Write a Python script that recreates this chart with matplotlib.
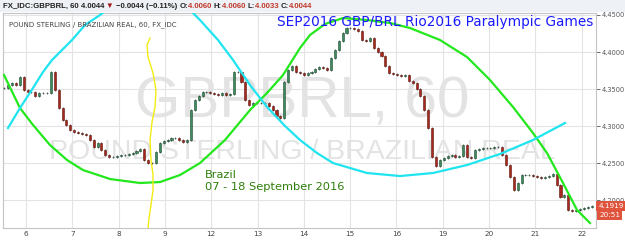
import numpy as np
import matplotlib
matplotlib.use('Agg')
import matplotlib.pyplot as plt
from matplotlib.patches import Rectangle

# ---- data (x in trading-day units, 0 = the "6" tick) ----
day_labels = ['6', '7', '8', '9', '12', '13', '14', '15', '16', '19', '20', '21', '22']
price_ticks = [4.20, 4.25, 4.30, 4.35, 4.40, 4.45]

bar_start = -0.471     # first candle
bar_step = 0.084       # roughly two-hour candles
closes = [
    4.3514, 4.3554, 4.3581, 4.3554, 4.3662, 4.3486, 4.3459, 4.3459, 4.3405, 4.3446,
    4.3446, 4.3446, 4.3730, 4.3486, 4.3243, 4.3081, 4.3014, 4.2946, 4.2919, 4.2905,
    4.2892, 4.2878, 4.2811, 4.2716, 4.2770, 4.2676, 4.2608, 4.2581, 4.2581, 4.2595,
    4.2608, 4.2608, 4.2622, 4.2635, 4.2662, 4.2689, 4.2541, 4.2500, 4.2500, 4.2649,
    4.2770, 4.2797, 4.2811, 4.2838, 4.2838, 4.2811, 4.2784, 4.2811, 4.3216, 4.3351,
    4.3405, 4.3459, 4.3459, 4.3446, 4.3432, 4.3419, 4.3446, 4.3419, 4.3432, 4.3730,
    4.3730, 4.3595, 4.3351, 4.3284, 4.3311, 4.3311, 4.3311, 4.3311, 4.3270, 4.3216,
    4.3135, 4.3108, 4.3595, 4.3757, 4.3811, 4.3730, 4.3716, 4.3689, 4.3716, 4.3730,
    4.3770, 4.3797, 4.3784, 4.3757, 4.3919, 4.4027, 4.4149, 4.4257, 4.4324, 4.4324,
    4.4311, 4.4284, 4.4162, 4.4149, 4.4189, 4.4054, 4.4000, 4.3946, 4.3811, 4.3716,
    4.3703, 4.3689, 4.3676, 4.3689, 4.3608, 4.3581, 4.3500, 4.3405, 4.3216, 4.2973,
    4.2581, 4.2459, 4.2541, 4.2568, 4.2595, 4.2608, 4.2581, 4.2595, 4.2743, 4.2581,
    4.2568, 4.2676, 4.2689, 4.2703, 4.2703, 4.2703, 4.2716, 4.2716, 4.2608, 4.2473,
    4.2311, 4.2135, 4.2230, 4.2338, 4.2338, 4.2338, 4.2324, 4.2311, 4.2297, 4.2311,
    4.2324, 4.2351, 4.2203, 4.2041, 4.2068, 4.1865, 4.1851, 4.1865, 4.1878, 4.1892,
    4.1905, 4.1919,
]

green_x = [-0.475, -0.130, 0.151, 0.518, 0.885, 1.231, 1.814, 2.462, 2.894, 3.325,
           3.757, 4.297, 4.837, 5.204, 5.550, 5.917, 6.133, 6.456, 6.845, 7.363,
           7.860, 8.292, 8.940, 9.523, 10.019, 10.516, 10.948, 11.250, 11.596,
           11.898, 12.179]
green_y = [4.3689, 4.3243, 4.3014, 4.2743, 4.2541, 4.2405, 4.2284, 4.2230, 4.2243,
           4.2338, 4.2500, 4.2811, 4.3216, 4.3446, 4.3689, 4.4054, 4.4230, 4.4378,
           4.4459, 4.4432, 4.4392, 4.4324, 4.4162, 4.3932, 4.3622, 4.3257, 4.2905,
           4.2635, 4.2230, 4.1865, 4.1689]

cyan_x = [-0.389, -0.130, 0.151, 0.367, 0.561, 0.993, 1.274, 1.598, 1.922, 2.246,
          2.570, 2.894, 3.217, 3.541, 3.757, 4.146, 4.470, 4.837, 5.204, 5.593,
          5.917, 6.284, 6.629, 7.363, 8.076, 8.789, 9.523, 10.235, 10.948, 11.639]
cyan_y = [4.2973, 4.3243, 4.3514, 4.3730, 4.3892, 4.4162, 4.4365, 4.4500, 4.4662,
          4.4770, 4.4811, 4.4770, 4.4676, 4.4568, 4.4432, 4.4162, 4.3892, 4.3554,
          4.3257, 4.3000, 4.2811, 4.2635, 4.2500, 4.2365, 4.2324, 4.2365, 4.2473,
          4.2622, 4.2811, 4.3041]

yellow_x = [2.678, 2.613, 2.634, 2.742, 2.807, 2.786, 2.721, 2.678, 2.699, 2.742,
            2.742, 2.699, 2.656, 2.634]
yellow_y = [4.4189, 4.4095, 4.3932, 4.3716, 4.3486, 4.3257, 4.3054, 4.2811, 4.2541,
            4.2338, 4.2135, 4.1932, 4.1757, 4.1622]

last_price = 4.1919
countdown = '20:51'

W, H = 625, 242


def fx(px):
    return px / W


def fy(py):
    return 1 - py / H


fig = plt.figure(figsize=(W / 100, H / 100), dpi=100, facecolor='white')
fig.patches.append(Rectangle((0, fy(12)), 1, 12 / H, transform=fig.transFigure,
                             facecolor='#eef1f5', edgecolor='none', zorder=0))

ax = fig.add_axes([fx(3), fy(228), fx(596) - fx(3), fy(13) - fy(228)])
ax.set_xlim(-0.497, 12.308)
ax.set_ylim(4.1622, 4.4527)

# grid + axes
ax.set_xticks(range(len(day_labels)))
ax.set_xticklabels(day_labels)
ax.set_yticks(price_ticks)
ax.set_yticklabels([f'{p:.4f}' for p in price_ticks])
ax.grid(True, color='#e3e3e3', linewidth=0.8)
ax.set_axisbelow(True)
ax.yaxis.tick_right()
ax.tick_params(axis='x', length=0, labelsize=5.2, colors='#444444', pad=2)
ax.tick_params(axis='y', length=3, width=0.6, labelsize=4.8, colors='#555555', pad=1)
for s in ax.spines.values():
    s.set_color('#c4c4c4')
    s.set_linewidth(0.8)

# watermarks
ax.text(0.505, 0.585, 'GBPBRL, 60', transform=ax.transAxes, ha='center', va='center',
        fontsize=42, color='#e3e3e3', family='Liberation Sans', zorder=0.5)
ax.text(0.505, 0.355, 'POUND STERLING / BRAZILIAN REAL', transform=ax.transAxes,
        ha='center', va='center', fontsize=20.5, color='#e3e3e3',
        family='Liberation Sans', zorder=0.5)

# candles (open = previous close)
closes = np.array(closes)
opens = np.r_[closes[0], closes[:-1]]
xs = bar_start + bar_step * np.arange(len(closes))
up = closes >= opens
lo = np.minimum(opens, closes)
hi = np.maximum(opens, closes)
body = np.maximum(hi - lo, 0.0006)
ax.vlines(xs, lo - 0.0015, hi + 0.0015, color='#333333', linewidth=0.5, zorder=2)
ax.bar(xs[up], body[up], bottom=lo[up], width=0.045,
       color='#3f8a5c', edgecolor='#1d4a30', linewidth=0.4, zorder=3)
ax.bar(xs[~up], body[~up], bottom=lo[~up], width=0.045,
       color='#a8281c', edgecolor='#5a1510', linewidth=0.4, zorder=3)

# hand-drawn curves
ax.plot(green_x, green_y, color='#22e81c', linewidth=1.6, zorder=4)
ax.plot(cyan_x, cyan_y, color='#20e4f0', linewidth=1.6, zorder=4)
ax.plot(yellow_x, yellow_y, color='#f2ec10', linewidth=1.0, zorder=4)

# annotations
fig.text(fx(277), fy(22), 'SEP2016 GBP/BRL Rio2016 Paralympic Games', color='#1a1aff',
         fontsize=9.8, va='center', ha='left')
fig.text(fx(205), fy(175), 'Brazil', color='#2f7f0a', fontsize=8.2, va='center')
fig.text(fx(205), fy(187), '07 - 18 September 2016', color='#2f7f0a', fontsize=8.2,
         va='center')
fig.text(fx(9), fy(25), 'POUND STERLING / BRAZILIAN REAL, 60, FX_IDC', color='#444444',
         fontsize=5, va='center')

# price tag on the right axis
ax.text(1.004, last_price, f'{last_price:.4f}', transform=ax.get_yaxis_transform(),
        fontsize=5.2, color='white', va='center', ha='left', zorder=6,
        bbox=dict(boxstyle='square,pad=0.3', facecolor='#e0533d', edgecolor='none'))
fig.text(fx(599), fy(215), countdown, fontsize=5.2, color='white', va='center',
         bbox=dict(boxstyle='square,pad=0.3', facecolor='#e0533d', edgecolor='none'))

# header line, pieces laid out one after another
parts = [('FX_IDC:GBPBRL, 60 ', '#222222'), ('4.0044 ', '#222222'),
         ('\u25bc ', '#a01818'), ('\u22120.0044 (\u22120.11%) ', '#222222'),
         ('O:', '#222222'), ('4.0060 ', '#c0392b'), ('H:', '#222222'),
         ('4.0060 ', '#c0392b'), ('L:', '#222222'), ('4.0033 ', '#c0392b'),
         ('C:', '#222222'), ('4.0044', '#c0392b')]
x = fx(3)
renderer = fig.canvas.get_renderer()
for s, c in parts:
    fam = ['Liberation Sans', 'DejaVu Sans']
    t = fig.text(x, fy(6), s, color=c, fontsize=5.6, fontweight='bold', va='center',
                 family=fam)
    bb = t.get_window_extent(renderer)
    x = bb.x1 / W

fig.savefig('out.png', dpi=100, facecolor='white')
